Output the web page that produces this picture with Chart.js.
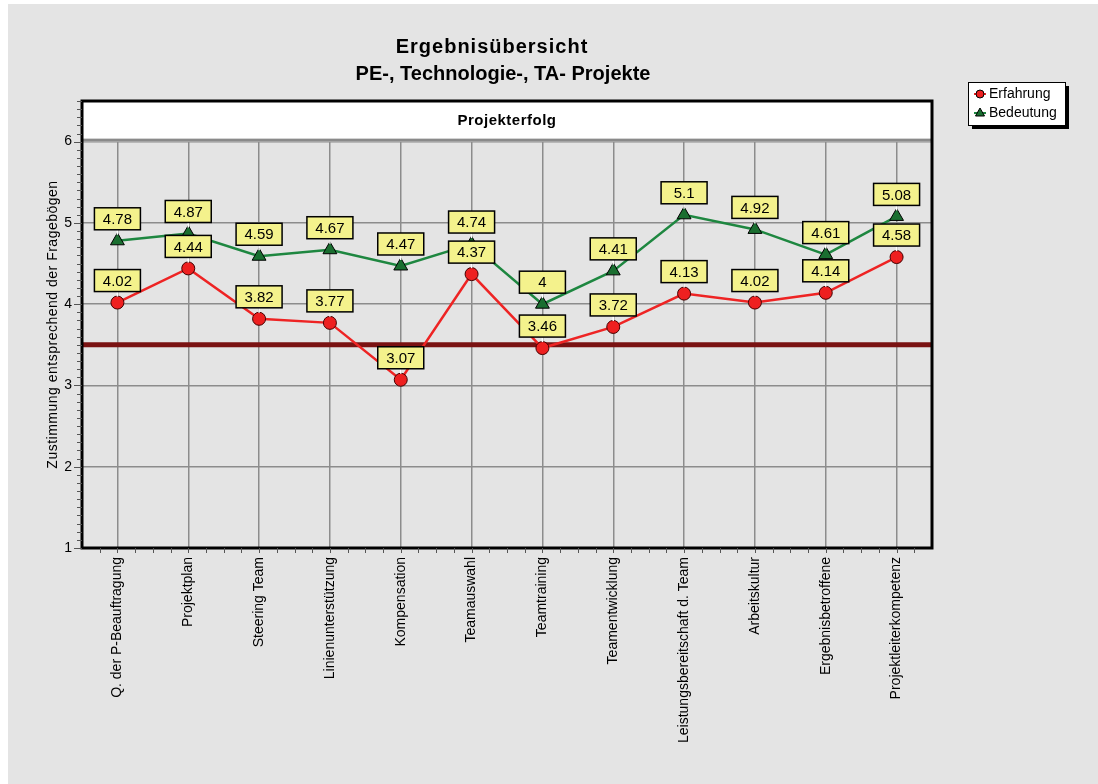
<!DOCTYPE html>
<html>
<head>
<meta charset="utf-8">
<script src="https://cdn.jsdelivr.net/npm/chart.js@4/dist/chart.umd.min.js"></script>
<style>
    html, body { margin: 0; padding: 0; background: #fff; }
    #grafico { display: block; }
</style>
</head>
<body>
<canvas id="grafico" width="1098" height="784"></canvas>
<script>
const kategorien = ['Q. der P-Beauftragung', 'Projektplan', 'Steering Team', 'Linienunterstützung', 'Kompensation',
    'Teamauswahl', 'Teamtraining', 'Teamentwicklung', 'Leistungsbereitschaft d. Team', 'Arbeitskultur',
    'Ergebnisbetroffene', 'Projektleiterkompetenz'];
const erfahrung = [4.02, 4.44, 3.82, 3.77, 3.07, 4.37, 3.46, 3.72, 4.13, 4.02, 4.14, 4.58];
const bedeutung = [4.78, 4.87, 4.59, 4.67, 4.47, 4.74, 4, 4.41, 5.1, 4.92, 4.61, 5.08];
const grenzwert = 3.5;
const yTicks = [1, 2, 3, 4, 5, 6];
const titelZeilen = ['Ergebnisübersicht', 'PE-, Technologie-, TA- Projekte'];
const kopfText = 'Projekterfolg';
const yTitel = 'Zustimmung entsprechend der Fragebögen';

const FONT = '"Liberation Sans", Arial, sans-serif';
const GRAU = '#e4e4e4';

// Hintergrund, Rahmen, Grenzlinie, Labels, Legende
const deko = {
    id: 'deko',
    beforeDraw(chart) {
        const ctx = chart.ctx;
        ctx.save();
        ctx.fillStyle = '#fff';
        ctx.fillRect(0, 0, chart.width, chart.height);
        ctx.fillStyle = GRAU;
        ctx.fillRect(8, 4, chart.width - 8, chart.height - 4);
        ctx.restore();
    },
    beforeDatasetsDraw(chart) {
        const ctx = chart.ctx;
        const a = chart.chartArea;
        const y = chart.scales.y.getPixelForValue(grenzwert);
        ctx.save();
        ctx.strokeStyle = '#7a1212';
        ctx.lineWidth = 5;
        ctx.beginPath();
        ctx.moveTo(a.left, y);
        ctx.lineTo(a.right, y);
        ctx.stroke();
        ctx.restore();
    },
    afterDatasetsDraw(chart) {
        const ctx = chart.ctx;
        ctx.save();
        ctx.font = '15px ' + FONT;
        ctx.textAlign = 'center';
        ctx.textBaseline = 'middle';
        chart.data.datasets.forEach((ds, di) => {
            const meta = chart.getDatasetMeta(di);
            meta.data.forEach((pt, i) => {
                const txt = String(ds.data[i]);
                const w = 46, h = 22;
                const cx = pt.x, cy = pt.y - 22;
                ctx.strokeStyle = '#fff';
                ctx.lineWidth = 1.5;
                ctx.beginPath();
                ctx.moveTo(cx, cy + h / 2);
                ctx.lineTo(cx, pt.y - 6);
                ctx.stroke();
                ctx.fillStyle = '#f4f28c';
                ctx.fillRect(cx - w / 2, cy - h / 2, w, h);
                ctx.strokeStyle = '#000';
                ctx.lineWidth = 1.5;
                ctx.strokeRect(cx - w / 2, cy - h / 2, w, h);
                ctx.fillStyle = '#000';
                ctx.fillText(txt, cx, cy + 1);
            });
        });
        ctx.restore();
    },
    afterDraw(chart) {
        const ctx = chart.ctx;
        const a = chart.chartArea;
        const ys = chart.scales.y;
        const xs = chart.scales.x;
        ctx.save();

        // Kopfzeile im Diagramm
        const y6 = ys.getPixelForValue(6);
        ctx.fillStyle = '#fff';
        ctx.fillRect(a.left, a.top, a.right - a.left, y6 - a.top);
        ctx.fillStyle = '#8a8a8a';
        ctx.fillRect(a.left, y6 - 3, a.right - a.left, 3);
        ctx.fillStyle = '#000';
        ctx.font = 'bold 15px ' + FONT;
        ctx.letterSpacing = '0.5px';
        ctx.textAlign = 'center';
        ctx.textBaseline = 'middle';
        ctx.fillText(kopfText, (a.left + a.right) / 2, (a.top + y6) / 2);
        ctx.letterSpacing = '0px';

        // Rahmen
        ctx.strokeStyle = '#000';
        ctx.lineWidth = 3;
        ctx.strokeRect(a.left, a.top, a.right - a.left, a.bottom - a.top);

        // kleine Teilstriche
        ctx.lineWidth = 1;
        ctx.strokeStyle = '#555';
        ctx.beginPath();
        for (let v = 10; v <= 65; v++) {
            const py = Math.round(ys.getPixelForValue(v / 10)) + 0.5;
            const len = v % 10 === 0 ? 8 : 5;
            ctx.moveTo(a.left - len, py);
            ctx.lineTo(a.left, py);
        }
        for (let k = -2; k <= kategorien.length * 4 - 2; k++) {
            const px = Math.round(xs.getPixelForValue(k / 4)) + 0.5;
            if (px <= a.left + 2 || px >= a.right - 2) continue;
            ctx.moveTo(px, a.bottom);
            ctx.lineTo(px, a.bottom + 5);
        }
        ctx.stroke();

        // Titel
        ctx.fillStyle = '#000';
        ctx.font = 'bold 20px ' + FONT;
        ctx.textAlign = 'center';
        ctx.textBaseline = 'middle';
        ctx.letterSpacing = '1px';
        ctx.fillText(titelZeilen[0], 492, 47);
        ctx.letterSpacing = '0px';
        ctx.fillText(titelZeilen[1], 503, 74);

        // Y-Achsentitel
        ctx.save();
        ctx.translate(53, (a.top + a.bottom) / 2);
        ctx.rotate(-Math.PI / 2);
        ctx.font = '14px ' + FONT;
        ctx.letterSpacing = '0.5px';
        ctx.fillText(yTitel, 0, 0);
        ctx.restore();

        // Legende
        const lx = 968, ly = 82, lw = 97, lh = 43;
        ctx.fillStyle = '#000';
        ctx.fillRect(lx + 4, ly + 4, lw, lh);
        ctx.fillStyle = '#fff';
        ctx.fillRect(lx, ly, lw, lh);
        ctx.strokeStyle = '#000';
        ctx.lineWidth = 1;
        ctx.strokeRect(lx + 0.5, ly + 0.5, lw, lh);
        chart.data.datasets.forEach((ds, i) => {
            const my = ly + 12 + i * 19;
            const mx = lx + 12;
            ctx.strokeStyle = ds.borderColor;
            ctx.lineWidth = 2;
            ctx.beginPath();
            ctx.moveTo(mx - 6, my);
            ctx.lineTo(mx + 6, my);
            ctx.stroke();
            ctx.fillStyle = ds.pointBackgroundColor;
            ctx.strokeStyle = '#000';
            ctx.lineWidth = 1;
            ctx.beginPath();
            if (ds.pointStyle === 'triangle') {
                ctx.moveTo(mx, my - 5);
                ctx.lineTo(mx + 4.5, my + 3);
                ctx.lineTo(mx - 4.5, my + 3);
                ctx.closePath();
            } else {
                ctx.arc(mx, my, 4, 0, Math.PI * 2);
            }
            ctx.fill();
            ctx.stroke();
            ctx.fillStyle = '#000';
            ctx.font = '14px ' + FONT;
            ctx.textAlign = 'left';
            ctx.fillText(ds.label, mx + 9, my);
        });
        ctx.restore();
    }
};

new Chart(document.getElementById('grafico'), {
    type: 'line',
    data: {
        labels: kategorien,
        datasets: [
            {
                label: 'Erfahrung', data: erfahrung,
                borderColor: '#ee2424', borderWidth: 2.5,
                pointStyle: 'circle', pointRadius: 6.5,
                pointBackgroundColor: '#ee2020', pointBorderColor: '#400', pointBorderWidth: 1,
                tension: 0
            },
            {
                label: 'Bedeutung', data: bedeutung,
                borderColor: '#1e8740', borderWidth: 2.5,
                pointStyle: 'triangle', pointRadius: 8,
                pointBackgroundColor: '#1a6e30', pointBorderColor: '#000', pointBorderWidth: 1,
                tension: 0
            }
        ]
    },
    options: {
        responsive: false,
        animation: false,
        devicePixelRatio: 1,
        layout: { padding: { left: 8, top: 101, right: 166, bottom: 0 } },
        plugins: { legend: { display: false }, title: { display: false }, tooltip: { enabled: false } },
        scales: {
            x: {
                offset: true,
                afterFit(s) { s.height = 236; },
                grid: { offset: false, color: '#8c8c8c', lineWidth: 1.5, drawTicks: false },
                border: { display: false },
                ticks: {
                    minRotation: 90, maxRotation: 90, autoSkip: false, padding: 9,
                    color: '#000', font: { family: FONT, size: 14 }
                }
            },
            y: {
                min: 1, max: 6.5,
                afterFit(s) { s.width = 74; },
                afterBuildTicks(s) { s.ticks = yTicks.map(v => ({ value: v })); },
                grid: { color: '#8c8c8c', lineWidth: 1.5, drawTicks: false },
                border: { display: false },
                ticks: { padding: 10, color: '#000', font: { family: FONT, size: 14 } }
            }
        }
    },
    plugins: [deko]
});
</script>
</body>
</html>
